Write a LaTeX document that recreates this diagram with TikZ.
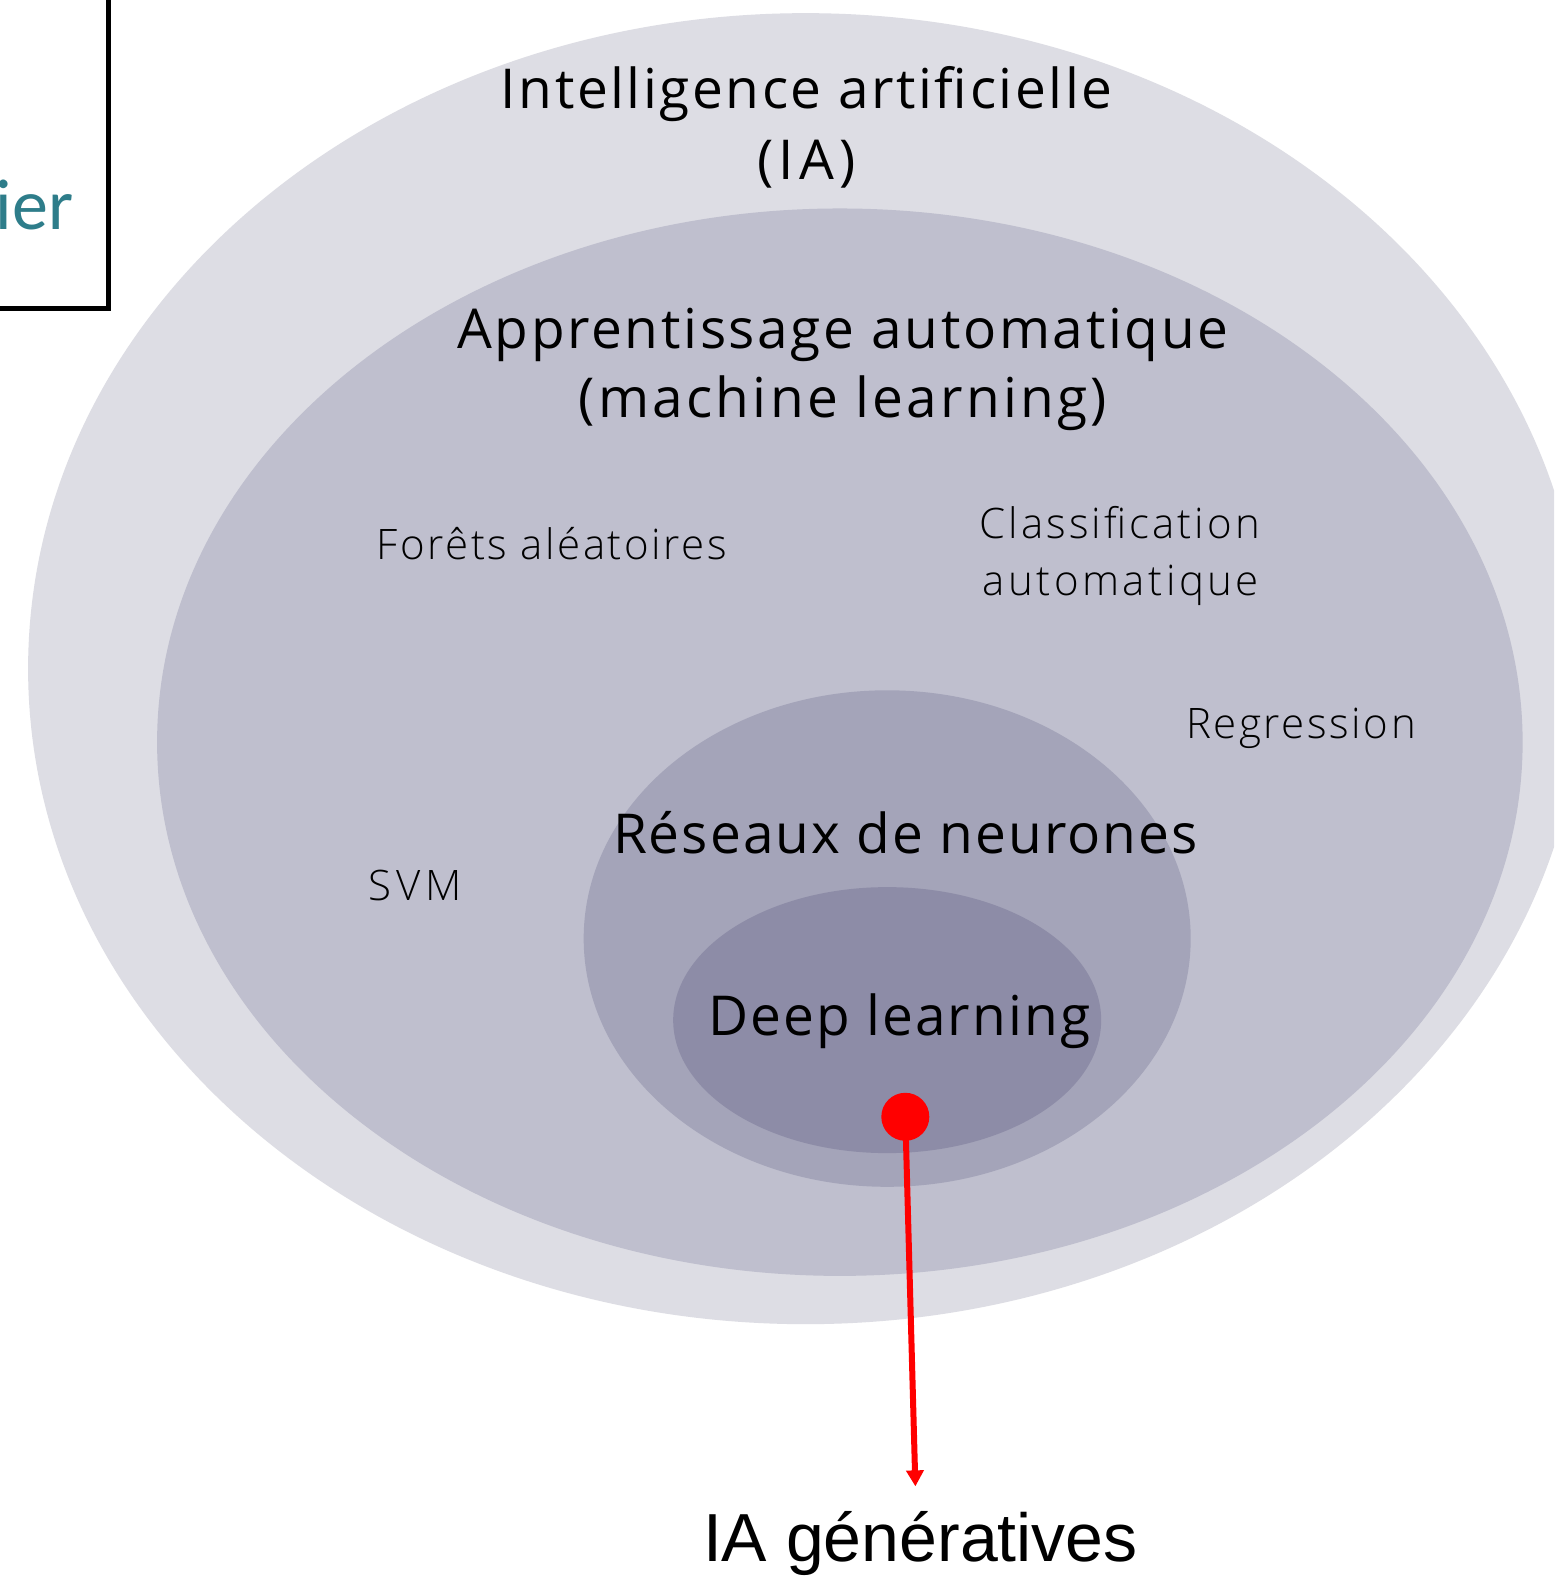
\documentclass[tikz,border=0pt]{standalone}
\usepackage{fontspec}
\setmainfont{Open Sans}
\newfontfamily\lightfont{Open Sans Light}
\newfontfamily\arialfont{Liberation Sans}
\newfontfamily\calibrifont{Carlito}
\usetikzlibrary{shapes.geometric,arrows.meta}
\definecolor{cOuter}{RGB}{221,221,228}
\definecolor{cML}{RGB}{191,191,206}
\definecolor{cRN}{RGB}{164,164,185}
\definecolor{cDL}{RGB}{141,140,167}
\definecolor{cTeal}{RGB}{46,125,138}
\tikzset{
  zone/.style={ellipse,draw=none,inner sep=0pt},
  bigtxt/.style={font=\fontsize{55}{66}\selectfont\addfontfeature{LetterSpace=#1},anchor=base,inner sep=0pt},
  thintxt/.style={font=\lightfont\fontsize{42}{50}\selectfont\addfontfeature{LetterSpace=#1},anchor=base,inner sep=0pt},
}
\begin{document}
\begin{tikzpicture}[x=1.007pt,y=-1.007pt]
\useasboundingbox (0,0) rectangle (1543.2,1567.0);
\clip (0,0) rectangle (1543.2,1567.0);
\fill[white] (0,0) rectangle (1543.2,1567.0);
\node[zone,fill=cOuter,minimum width=1555pt,minimum height=1311pt] (ia) at (800,664) {};
\node[zone,fill=cML,minimum width=1365.5pt,minimum height=1067.4pt] (ml) at (834,737) {};
\node[zone,fill=cRN,minimum width=607pt,minimum height=496.5pt] (rn) at (881,932) {};
\node[zone,fill=cDL,minimum width=428pt,minimum height=266pt] (dl) at (881,1013) {};
% box at top left
\draw[line width=5pt] (-20,-20) -- (107.7,-20) -- (107.7,305.9) -- (-20,305.9);
\node[font=\calibrifont\fontsize{72}{86}\selectfont,text=cTeal,anchor=base west,inner sep=0pt] (ier) at (-4.5,228) {ier};
% titles
\node[bigtxt=4.6] (t1a) at (801,108) {Intelligence artificielle};
\node[bigtxt=9.5] (t1b) at (801,178) {(IA)};
\node[bigtxt=4.8] (t2a) at (837,346) {Apprentissage automatique};
\node[bigtxt=5.9] (t2b) at (837,415) {(machine learning)};
\node[bigtxt=3.7] (t3) at (899,848) {Réseaux de neurones};
\node[bigtxt=3.8] (t4) at (893,1028) {Deep learning};
% light labels
\node[thintxt=6.0] (rf) at (548,556) {Forêts aléatoires};
\node[thintxt=7.2] (cl1) at (1112,535) {Classification};
\node[thintxt=8.3] (cl2) at (1113,591) {automatique};
\node[thintxt=6.1] (reg) at (1292,733) {Regression};
\node[thintxt=12] (svm) at (412,894) {SVM};
% red pointer
\node[circle,fill=red,inner sep=0pt,minimum size=48pt] (dot) at (899,1109) {};
\coordinate (tip) at (909,1476);
\draw[red,line width=6pt,-{Triangle[width=17pt,length=16pt]}] (dot.center) -- (tip);
\node[font=\arialfont\fontsize{68}{80}\selectfont,anchor=base,inner sep=0pt] (gen) at (914,1551) {IA génératives};
\end{tikzpicture}
\end{document}
